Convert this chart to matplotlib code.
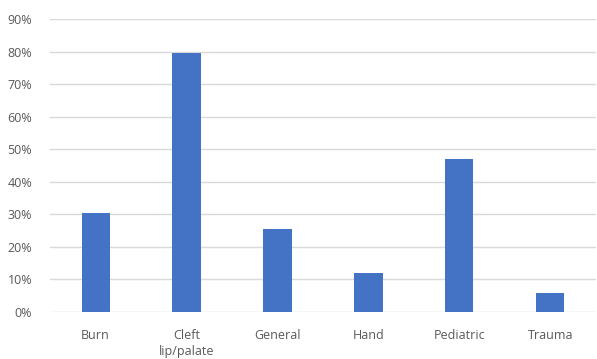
import matplotlib

matplotlib.use("Agg")
import matplotlib.pyplot as plt
from matplotlib.ticker import PercentFormatter

plt.rcParams["font.family"] = ["Open Sans", "DejaVu Sans"]

categories = ["Burn", "Cleft\nlip/palate", "General", "Hand", "Pediatric", "Trauma"]
values = [30.3, 79.5, 25.6, 11.9, 46.9, 5.8]

fig = plt.figure(figsize=(5.97, 3.59), dpi=100)
ax = fig.add_axes([0.084, 0.131, 0.914, 0.816])

ax.bar(range(len(categories)), values, width=0.31, color="#4472C4", zorder=3)

ax.set_xlim(-0.5, len(categories) - 0.5)
ax.set_ylim(0, 90)
ax.set_yticks(range(0, 91, 10))
ax.yaxis.set_major_formatter(PercentFormatter(decimals=0))
ax.set_xticks(range(len(categories)))
ax.set_xticklabels(categories, linespacing=1.35)

ax.grid(axis="y", color="#D9D9D9", linewidth=1.0, zorder=0)
for side in ["top", "right", "left", "bottom"]:
    ax.spines[side].set_visible(False)
ax.tick_params(axis="both", length=0, labelsize=9, labelcolor="#595959")
ax.tick_params(axis="y", pad=13)
ax.tick_params(axis="x", pad=12)

fig.savefig("out.png", dpi=100)
